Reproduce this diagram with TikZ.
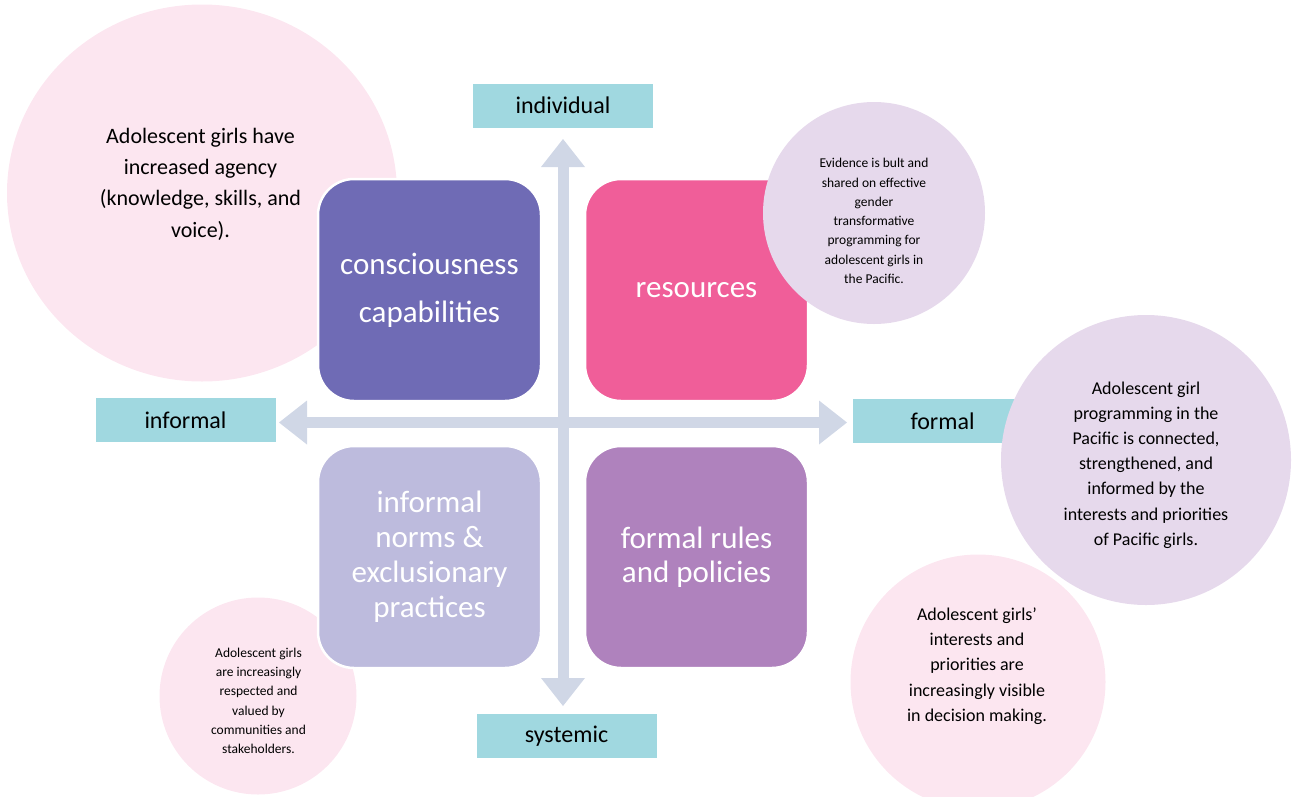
\documentclass[tikz,border=0pt]{standalone}
\usepackage{fontspec}
\setmainfont{Carlito}
\usetikzlibrary{arrows.meta,shapes.geometric}
\definecolor{pinkbub}{HTML}{FCE6F0}
\definecolor{lavbub}{HTML}{E6D9EC}
\definecolor{quadA}{HTML}{6F6BB5}
\definecolor{quadB}{HTML}{F05E99}
\definecolor{quadC}{HTML}{BDBBDD}
\definecolor{quadD}{HTML}{AF82BD}
\definecolor{axiscol}{HTML}{D0D7E6}
\definecolor{labelcol}{HTML}{A0D8E0}
\begin{document}
\begin{tikzpicture}[x=1pt,y=-1pt,
  bubble/.style={ellipse, inner sep=0pt, draw=none},
  ctext/.style={align=center, inner sep=0pt, text=black},
  quad/.style={rounded corners=36pt, draw=white, line width=2.5pt, minimum width=223pt, minimum height=222pt, inner sep=0pt, text=white, align=center},
  axislabel/.style={fill=labelcol, minimum width=180pt, minimum height=44pt, inner sep=0pt, text=black, font=\fontsize{24}{28}\selectfont},
  axis/.style={draw=axiscol, line width=11pt, {Triangle[length=28pt,width=44pt,line width=0pt]}-{Triangle[length=28pt,width=44pt,line width=0pt]}}
]
\useasboundingbox (0,0) rectangle (1293,796);

% pink bubbles (behind)
\node[bubble, fill=pinkbub, minimum width=390pt, minimum height=377pt] (agency) at (202,193) {};
\node[ctext, font=\fontsize{22}{31.3}\selectfont] (agencyT) at (200.5,184) {Adolescent girls have\\increased agency\\(knowledge, skills, and\\voice).};

\node[bubble, fill=pinkbub, minimum width=197pt, minimum height=197pt] (respect) at (258,696) {};
\node[ctext, font=\fontsize{13.5}{19.3}\selectfont] (respectT) at (258.5,701) {Adolescent girls\\are increasingly\\respected and\\valued by\\communities and\\stakeholders.};

\node[bubble, fill=pinkbub, minimum width=255pt, minimum height=255pt] (visible) at (978,682) {};
\node[ctext, font=\fontsize{18}{25.3}\selectfont] (visibleT) at (977,666) {Adolescent girls’\\interests and\\priorities are\\increasingly visible\\in decision making.};

% quadrants
\node[quad, fill=quadA, font=\fontsize{31}{48}\selectfont] (cons) at (429.5,290) {consciousness\\capabilities};
\node[quad, fill=quadB, font=\fontsize{31}{38}\selectfont] (res) at (696.5,290) {resources};
\node[quad, fill=quadC, font=\fontsize{31}{35}\selectfont] (norms) at (429.5,557) {informal\\norms \&\\exclusionary\\practices};
\node[quad, fill=quadD, font=\fontsize{31}{34}\selectfont] (rules) at (696.5,557) {formal rules\\and policies};

% evidence bubble (over resources)
\node[bubble, fill=lavbub, minimum width=222pt, minimum height=222pt] (evid) at (874,213) {};
\node[ctext, font=\fontsize{13.5}{19.3}\selectfont] (evidT) at (874,221) {Evidence is bult and\\shared on effective\\gender\\transformative\\programming for\\adolescent girls in\\the Pacific.};

% axes
\coordinate (W) at (279,422.5);
\coordinate (E) at (847,422.5);
\coordinate (N) at (563,139);
\coordinate (S) at (563,706);
\draw[axis] (W) -- (E);
\draw[axis] (N) -- (S);

% axis labels
\node[axislabel] (indiv) at (563,105.5) {individual};
\node[axislabel] (inf) at (185.5,420) {informal};
\node[axislabel] (form) at (942.5,421) {formal};
\node[axislabel] (sys) at (566.5,736) {systemic};

% programming bubble (over formal label)
\node[bubble, fill=lavbub, minimum width=290pt, minimum height=290pt] (prog) at (1146,460) {};
\node[ctext, font=\fontsize{18}{25.2}\selectfont] (progT) at (1146,465) {Adolescent girl\\programming in the\\Pacific is connected,\\strengthened, and\\informed by the\\interests and priorities\\of Pacific girls.};
\end{tikzpicture}
\end{document}
